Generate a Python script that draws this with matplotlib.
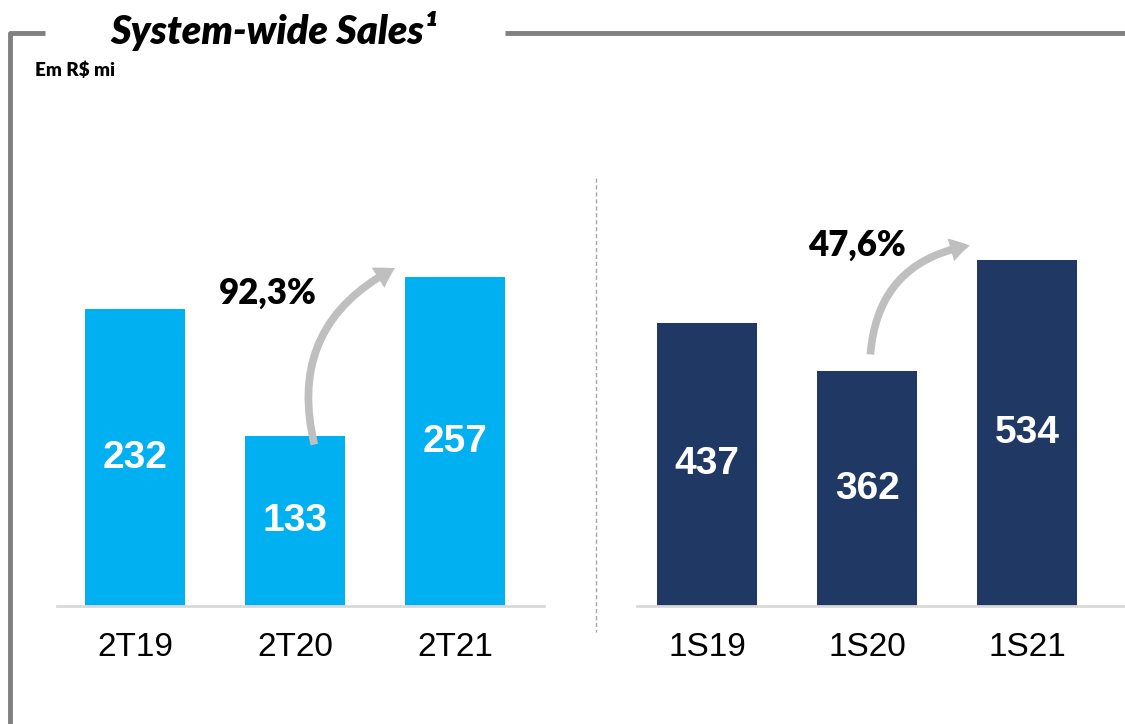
import matplotlib
matplotlib.use("Agg")
import matplotlib.pyplot as plt
from matplotlib.patches import FancyArrowPatch
from matplotlib.lines import Line2D

# dados (R$ mi)
quarters = ["2T19", "2T20", "2T21"]
quarter_sales = [232, 133, 257]
semesters = ["1S19", "1S20", "1S21"]
semester_sales = [437, 362, 534]
quarter_growth = "92,3%"
semester_growth = "47,6%"

light_blue = "#00B0F0"
navy = "#203864"
arrow_grey = "#BFBFBF"
frame_grey = "#808080"

W, H = 1125, 724
fig = plt.figure(figsize=(W / 100, H / 100), dpi=100)
fig.patch.set_facecolor("white")

base_y = (H - 606) / H
ax_h = 506 / H
ax1 = fig.add_axes([57 / W, base_y, (544 - 57) / W, ax_h])
ax2 = fig.add_axes([637 / W, base_y, (1125 - 637) / W, ax_h])


def draw_panel(ax, cats, vals, color, ymax, xlim, pct, pct_xy, arrow_tail, arrow_tip):
    xs = range(len(cats))
    ax.bar(xs, vals, width=0.625, color=color, zorder=2)
    ax.set_xlim(*xlim)
    ax.set_ylim(0, ymax)
    for x, v in zip(xs, vals):
        ax.text(x, v / 2, str(v), ha="center", va="center", color="white",
                fontsize=28, fontweight="bold", family="Liberation Sans", zorder=3)
    ax.set_xticks(list(xs))
    ax.set_xticklabels(cats, fontsize=24, family="Liberation Sans")
    ax.tick_params(axis="x", length=0, pad=19)
    ax.set_yticks([])
    for s in ["top", "left", "right"]:
        ax.spines[s].set_visible(False)
    ax.spines["bottom"].set_color("#D9D9D9")
    ax.spines["bottom"].set_linewidth(2)
    ax.text(pct_xy[0], pct_xy[1], pct, ha="center", va="center", fontsize=25,
            fontweight="heavy", family=["Lato", "DejaVu Sans"], color="black")
    arr = FancyArrowPatch(arrow_tail, arrow_tip, connectionstyle="arc3,rad=-0.4",
                          arrowstyle="simple,head_width=17,head_length=14,tail_width=5.5",
                          color=arrow_grey, lw=0, zorder=4)
    ax.add_patch(arr)


draw_panel(ax1, quarters, quarter_sales, light_blue, 506 / 1.28,
           (-0.4875, 2.556), quarter_growth, (0.83, 244),
           (1.125, quarter_sales[1] - 9), (1.64, quarter_sales[2] + 8))
draw_panel(ax2, semesters, semester_sales, navy, 506 / 0.648,
           (-0.4375, 2.6125), semester_growth, (0.94, 557),
           (1.02, semester_sales[1] + 22), (1.66, semester_sales[2] + 23))

# divisor tracejado
fig.add_artist(Line2D([596 / W, 596 / W], [(H - 178) / H, (H - 632) / H],
                      color="#A6A6A6", lw=1, ls=(0, (3, 2))))

# moldura
fig.add_artist(Line2D([10 / W, 10 / W, 45 / W], [0, (H - 33) / H, (H - 33) / H],
                      color=frame_grey, lw=3.5, solid_capstyle="butt"))
fig.add_artist(Line2D([505 / W, 1], [(H - 33) / H, (H - 33) / H],
                      color=frame_grey, lw=3.5, solid_capstyle="butt"))

fig.text(274 / W, (H - 31) / H, "System-wide Sales¹", ha="center", va="center",
         fontsize=28.5, fontweight="heavy", style="italic", family=["Lato", "DejaVu Sans"])
fig.text(35 / W, (H - 70) / H, "Em R$ mi", ha="left", va="center",
         fontsize=13.5, fontweight="heavy", family=["Lato", "DejaVu Sans"])

fig.savefig("out.png", dpi=100, facecolor="white")
